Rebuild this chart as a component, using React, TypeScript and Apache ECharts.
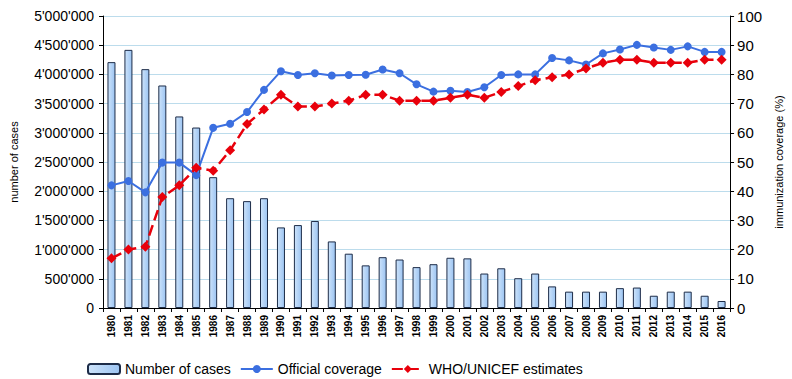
import React, { useEffect, useRef } from "react";
import * as echarts from "echarts";

const years = ["1980","1981","1982","1983","1984","1985","1986","1987","1988","1989","1990","1991","1992","1993","1994","1995","1996","1997","1998","1999","2000","2001","2002","2003","2004","2005","2006","2007","2008","2009","2010","2011","2012","2013","2014","2015","2016"];

const cases = [4210000,4420000,4090000,3810000,3280000,3090000,2240000,1880000,1830000,1880000,1380000,1420000,1490000,1140000,930000,730000,870000,830000,700000,750000,860000,850000,590000,680000,510000,590000,370000,280000,280000,280000,340000,350000,210000,280000,280000,210000,120000];

const official = [42,43.5,39.6,49.8,49.8,45.5,61.7,63.1,67.1,74.7,81.1,79.8,80.4,79.6,79.8,79.9,81.7,80.4,76.6,74.1,74.4,74,75.6,79.8,80,80,85.6,84.8,83.4,87.2,88.5,90.1,89.2,88.4,89.6,87.7,87.7];

const whoUnicef = [17,20,21,38,42,48,47,54,63,68,73,69,69,70,71,73,73,71,71,71,72,73,72,74,76,78,79,80,82,84,85,85,84,84,84,85,85];

const fmt = (v: number) => String(v).replace(/\B(?=(\d{3})+(?!\d))/g, "'");

export default function App() {
  const ref = useRef<HTMLDivElement>(null);
  useEffect(() => {
    if (!ref.current) return;
    const chart = echarts.init(ref.current, null, { renderer: "svg" });
    const font = "Liberation Sans, Arial, sans-serif";
    chart.setOption({
      animation: false,
      backgroundColor: "#ffffff",
      textStyle: { fontFamily: font },
      grid: { left: 101, right: 52, top: 16, bottom: 71, containLabel: false },
      legend: {
        left: 82,
        top: 357,
        itemWidth: 32,
        itemHeight: 10,
        itemGap: 9,
        textStyle: { fontSize: 14, color: "#000", fontFamily: font },
        data: ["Number of cases", "Official coverage", "WHO/UNICEF estimates"],
      },
      xAxis: {
        type: "category",
        data: years,
        axisLine: { lineStyle: { color: "#000", width: 1 } },
        axisTick: { show: true, alignWithLabel: false, length: 4, lineStyle: { color: "#000" } },
        axisLabel: { rotate: 90, fontSize: 10, color: "#000", margin: 7, fontFamily: font, fontWeight: "bold" },
      },
      yAxis: [
        {
          type: "value",
          min: 0,
          max: 5000000,
          interval: 500000,
          name: "number of cases",
          nameLocation: "middle",
          nameRotate: 90,
          nameGap: 84,
          nameTextStyle: { fontSize: 11, color: "#000", fontFamily: font },
          axisLine: { show: true, lineStyle: { color: "#000" } },
          axisTick: { show: true, length: 4, lineStyle: { color: "#000" } },
          axisLabel: { fontSize: 14, color: "#000", margin: 9, formatter: (v: number) => fmt(v) },
          splitLine: { show: true, lineStyle: { color: "#bcdcec", width: 1 } },
        },
        {
          type: "value",
          min: 0,
          max: 100,
          interval: 10,
          position: "right",
          name: "immunization coverage (%)",
          nameLocation: "middle",
          nameRotate: 90,
          nameGap: 38,
          nameTextStyle: { fontSize: 11, color: "#000", fontFamily: font },
          axisLine: { show: true, lineStyle: { color: "#000" } },
          axisTick: { show: true, length: 4, lineStyle: { color: "#000" } },
          axisLabel: { fontSize: 15, color: "#000", margin: 7 },
          splitLine: { show: false },
        },
      ],
      series: [
        {
          name: "Number of cases",
          type: "bar",
          yAxisIndex: 0,
          data: cases,
          barWidth: 8,
          itemStyle: {
            color: new echarts.graphic.LinearGradient(0, 0, 1, 0, [
              { offset: 0, color: "#cde3fa" },
              { offset: 1, color: "#9cc4f2" },
            ]),
            borderColor: "#1d2c48",
            borderWidth: 1,
          },
        },
        {
          name: "Official coverage",
          type: "line",
          yAxisIndex: 1,
          data: official,
          symbol: "circle",
          symbolSize: 8,
          lineStyle: { color: "#3b6fe0", width: 2 },
          itemStyle: { color: "#3b6fe0" },
          z: 3,
        },
        {
          name: "WHO/UNICEF estimates",
          type: "line",
          yAxisIndex: 1,
          data: whoUnicef,
          symbol: "diamond",
          symbolSize: 10,
          lineStyle: { color: "#e8000b", width: 2.5, type: [11, 5] },
          itemStyle: { color: "#e8000b" },
          z: 4,
        },
      ],
    });
    return () => chart.dispose();
  }, []);
  return <div ref={ref} style={{ width: 792, height: 379, position: "absolute", left: 0, top: 0 }} />;
}
